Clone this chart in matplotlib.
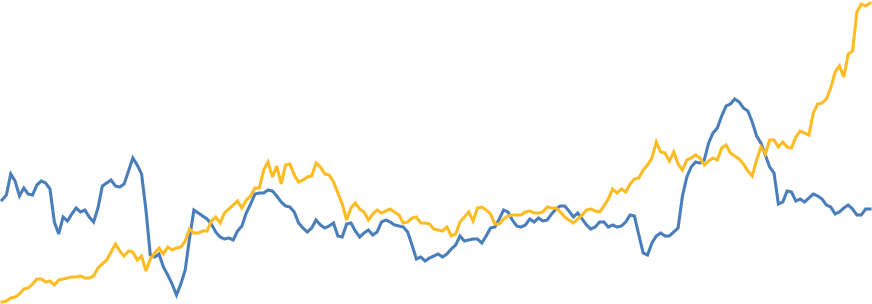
import numpy as np
import matplotlib
matplotlib.use("Agg")
import matplotlib.pyplot as plt

# Valores (escala arbitraria, 0 = borde inferior)
serie_azul = [
    104, 109, 130, 123, 108, 116, 110, 109, 119, 123,
    121, 115, 82, 70, 87, 83, 90, 96, 92, 94,
    87, 82, 96, 118, 121, 124, 118, 117, 120, 133,
    146, 139, 130, 94, 49, 47, 50, 37, 29, 20,
    9, 20, 34, 66, 94, 91, 88, 85, 80, 72,
    67, 65, 66, 64, 73, 78, 91, 100, 110, 111,
    111, 114, 113, 108, 102, 98, 97, 92, 81, 76,
    72, 76, 84, 79, 76, 78, 81, 68, 67, 80,
    81, 73, 67, 71, 74, 69, 72, 82, 84, 82,
    79, 78, 77, 72, 59, 45, 47, 43, 46, 48,
    50, 47, 50, 55, 59, 68, 63, 64, 65, 65,
    61, 68, 76, 77, 85, 94, 92, 84, 78, 77,
    79, 85, 82, 86, 83, 84, 90, 95, 98, 98,
    93, 87, 91, 85, 79, 75, 77, 82, 82, 77,
    79, 77, 78, 82, 89, 88, 69, 51, 49, 61,
    68, 71, 68, 68, 72, 76, 108, 127, 137, 142,
    141, 144, 161, 171, 176, 188, 198, 200, 205, 202,
    196, 193, 182, 168, 161, 149, 137, 131, 100, 102,
    113, 112, 103, 105, 102, 106, 110, 108, 105, 99,
    97, 90, 92, 96, 99, 95, 89, 89, 95, 95,
]

serie_amarilla = [
    2, 3, 6, 7, 10, 15, 16, 20, 25, 25,
    22, 23, 19, 24, 25, 26, 27, 27, 28, 26,
    26, 28, 36, 40, 44, 52, 60, 53, 48, 53,
    52, 44, 48, 33, 45, 51, 56, 50, 57, 54,
    56, 57, 63, 75, 71, 71, 73, 73, 83, 87,
    81, 91, 95, 99, 103, 96, 104, 108, 116, 116,
    134, 142, 127, 138, 120, 139, 140, 129, 122, 124,
    127, 128, 141, 137, 130, 129, 122, 111, 100, 84,
    96, 101, 95, 92, 84, 90, 94, 91, 93, 95,
    92, 89, 81, 82, 86, 87, 81, 81, 80, 75,
    74, 73, 77, 68, 70, 82, 87, 92, 83, 96,
    97, 94, 90, 80, 80, 85, 88, 89, 89, 89,
    92, 93, 91, 91, 92, 97, 96, 96, 92, 87,
    84, 81, 85, 89, 94, 95, 93, 92, 98, 105,
    115, 111, 115, 112, 120, 125, 126, 134, 139, 146,
    162, 152, 151, 143, 152, 140, 134, 144, 146, 149,
    146, 139, 143, 146, 144, 156, 159, 151, 148, 145,
    140, 133, 128, 144, 157, 150, 164, 164, 157, 162,
    157, 156, 167, 173, 171, 169, 191, 200, 201, 205,
    216, 232, 238, 227, 250, 253, 292, 300, 298, 301,
]

x = np.arange(len(serie_azul))

fig = plt.figure(figsize=(8.72, 3.04), dpi=100)
ax = fig.add_axes([0, 0, 1, 1])
ax.plot(x, serie_azul, color='#4A7EBB', linewidth=2.2, solid_joinstyle='miter')
ax.plot(x, serie_amarilla, color='#FDBC24', linewidth=2.2, solid_joinstyle='miter')
ax.set_xlim(-0.46, len(x) - 1 + 0.46)
ax.set_ylim(0, 304)
ax.axis('off')

plt.savefig('out.png', dpi=100)
plt.close()
